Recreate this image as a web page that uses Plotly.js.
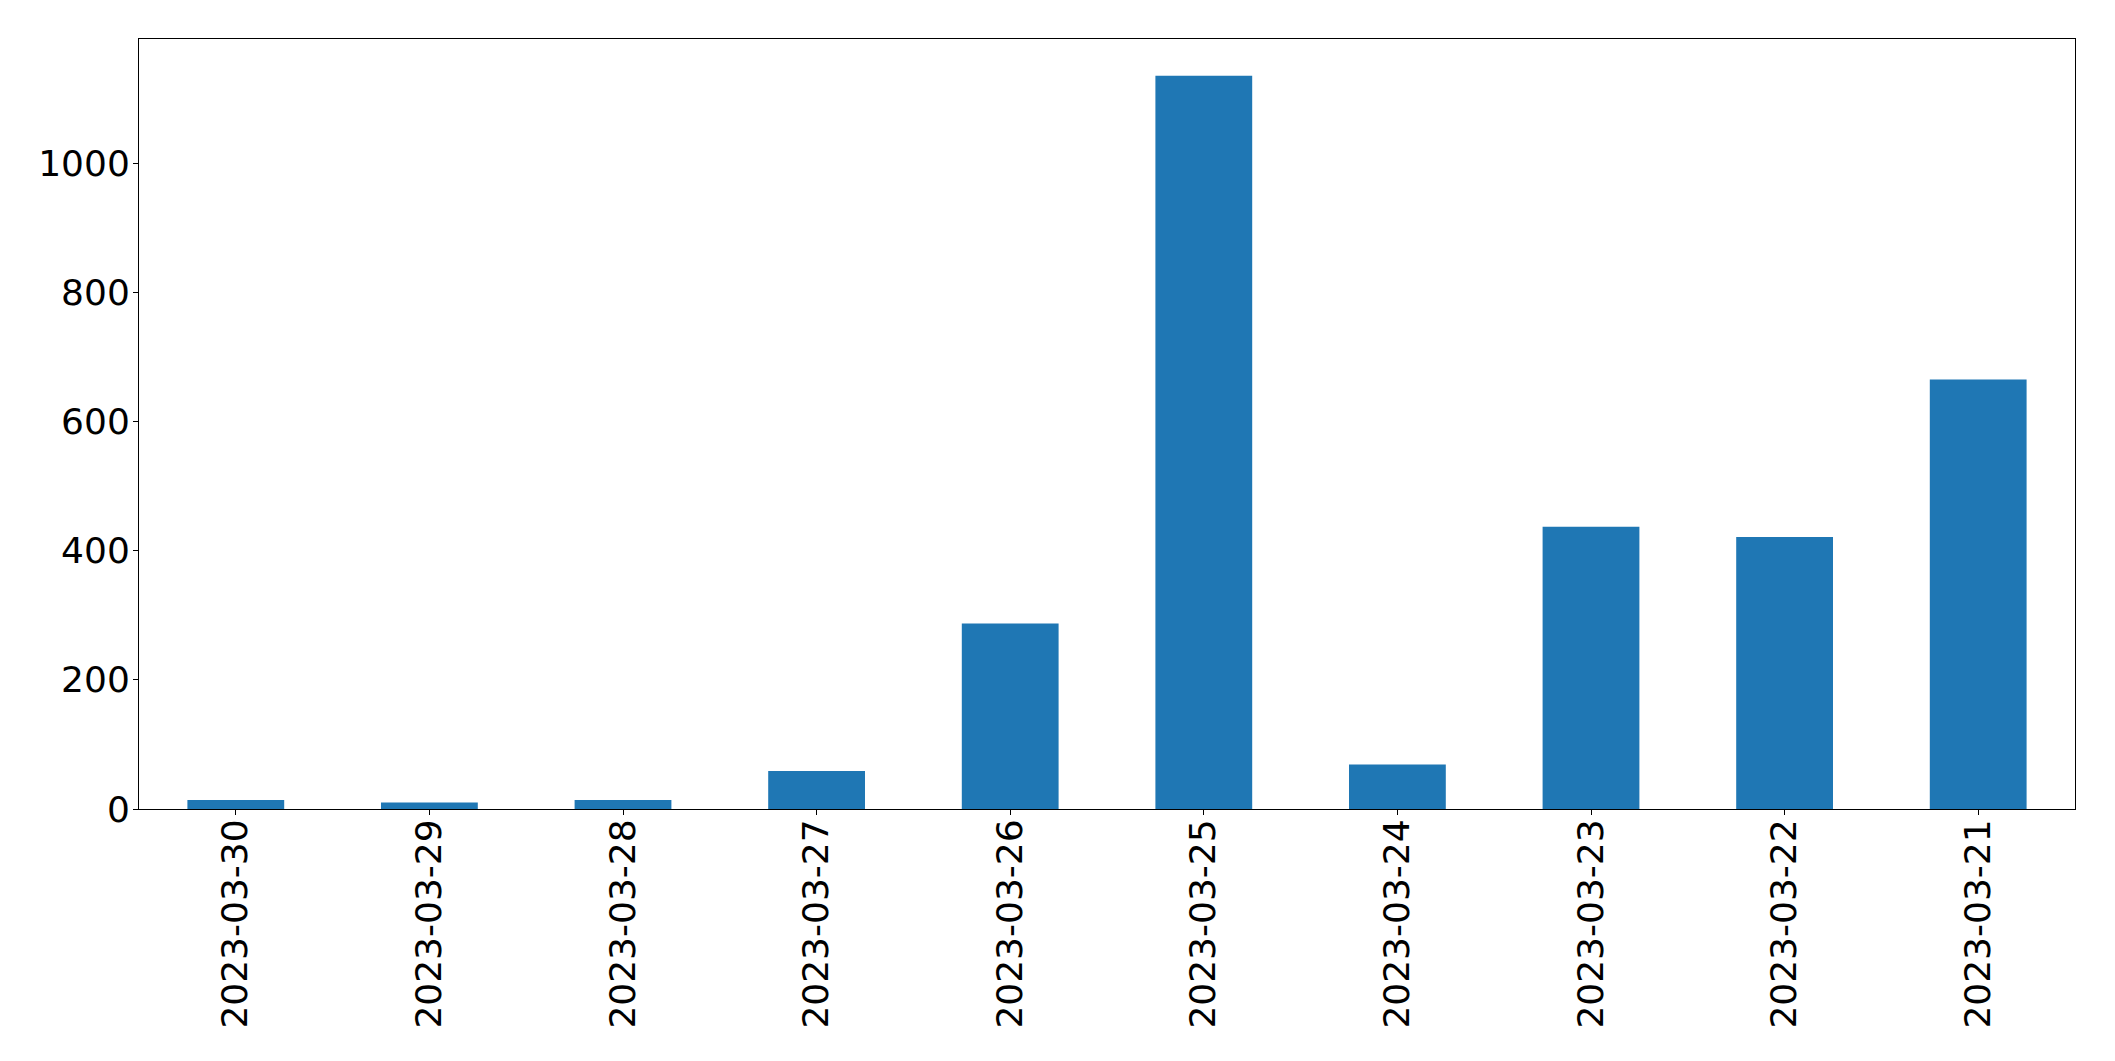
<!DOCTYPE html>
<html>
<head>
<meta charset="utf-8">
<script src="https://cdn.plot.ly/plotly-3.0.1.min.js"></script>
<style>html,body{margin:0;padding:0;background:#fff;}#chart{width:2115px;height:1061px;}</style>
</head>
<body>
<div id="chart"></div>
<script>
const categories = ["2023-03-30","2023-03-29","2023-03-28","2023-03-27","2023-03-26","2023-03-25","2023-03-24","2023-03-23","2023-03-22","2023-03-21"];
const values = [14, 10, 14, 59, 287, 1135, 69, 437, 421, 665];
const yTickVals = [0, 200, 400, 600, 800, 1000];
const yTickText = ["0", "200", "400", "600", "800", "1000"];

const font = {family: "DejaVu Sans, sans-serif", size: 36, color: "#000"};

Plotly.newPlot("chart", [{
  type: "bar",
  x: categories,
  y: values,
  marker: {color: "#1f77b4", line: {width: 0}},
  hoverinfo: "x+y"
}], {
  width: 2115,
  height: 1061,
  margin: {l: 139, r: 40, t: 39, b: 252, pad: 0},
  paper_bgcolor: "#fff",
  plot_bgcolor: "#fff",
  font: font,
  bargap: 0.5,
  showlegend: false,
  xaxis: {
    type: "category",
    range: [-0.5, 9.5],
    tickangle: -90,
    ticks: "outside",
    ticklen: 5,
    tickwidth: 1,
    tickcolor: "#000",
    ticklabelstandoff: -10,
    showline: true,
    linecolor: "#000",
    linewidth: 1,
    mirror: true,
    showgrid: false,
    zeroline: false,
    tickfont: font
  },
  yaxis: {
    range: [0, 1192],
    tickvals: yTickVals,
    ticktext: yTickText,
    ticks: "outside",
    ticklen: 5,
    tickwidth: 1,
    tickcolor: "#000",
    ticklabelstandoff: -4,
    showline: true,
    linecolor: "#000",
    linewidth: 1,
    mirror: true,
    showgrid: false,
    zeroline: false,
    tickfont: font
  }
}, {staticPlot: true});
</script>
</body>
</html>
